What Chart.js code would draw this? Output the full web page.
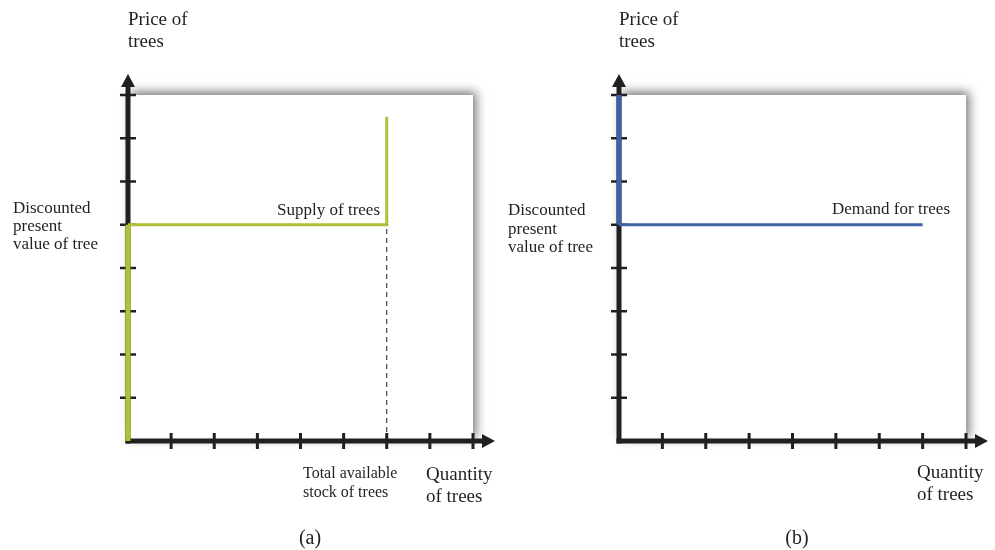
<!DOCTYPE html>
<html lang="en">
<head>
<meta charset="UTF-8">
<title>Supply and demand for trees</title>
<script src="https://cdn.jsdelivr.net/npm/chart.js"></script>
<style>
  body { margin: 0; background: #fff; }
  .wrap { position: relative; width: 995px; height: 550px; }
  canvas { position: absolute; top: 0; }
  #chartA { left: 0; }
  #chartB { left: 497px; }
</style>
</head>
<body>
<div class="wrap">
  <canvas id="chartA" width="497" height="550"></canvas>
  <canvas id="chartB" width="498" height="550"></canvas>
</div>
<script>
// axis ticks (both panels use 0..8 on each axis)
const quantityTicks = [1, 2, 3, 4, 5, 6, 7, 8];
const priceTicks = [1, 2, 3, 4, 5, 6, 7, 8];

// panel (a): supply of trees
const supplyAxisQuantity = [0, 0];
const supplyAxisPrice = [0, 5];
const supplyQuantity = [0, 6, 6];
const supplyPrice = [5, 5, 7.5];
const stockQuantity = [6, 6];
const stockPrice = [0, 5];

// panel (b): demand for trees
const demandAxisQuantity = [0, 0];
const demandAxisPrice = [5, 8];
const demandQuantity = [0, 7];
const demandPrice = [5, 5];

const INK = '#231f20';
const GREEN = '#b1c034';
const BLUE = '#3d63a5';
const SERIF = '"Liberation Serif", "Times New Roman", serif';

const pts = (xs, ys) => xs.map((x, i) => ({ x: x, y: ys[i] }));

const line = (data, color, width, dash) => ({
  data: data,
  showLine: true,
  borderColor: color,
  borderWidth: width,
  borderDash: dash || [],
  pointRadius: 0,
  clip: false
});

// white plot box with soft shadow, black axes with arrows and tick marks
const axesPlugin = {
  id: 'axes',
  beforeDraw(chart) {
    const { ctx, chartArea: a } = chart;
    ctx.save();
    ctx.shadowColor = 'rgba(0,0,0,0.55)';
    ctx.shadowBlur = 10;
    ctx.shadowOffsetX = 3;
    ctx.shadowOffsetY = -3;
    ctx.fillStyle = '#fff';
    ctx.fillRect(a.left, a.top, a.right - a.left, a.bottom - a.top);
    ctx.restore();
  },
  beforeDatasetsDraw(chart) {
    const { ctx, chartArea: a, scales } = chart;
    const x0 = scales.x.getPixelForValue(0);
    const y0 = scales.y.getPixelForValue(0);
    ctx.save();
    ctx.strokeStyle = INK;
    ctx.fillStyle = INK;
    ctx.lineCap = 'butt';

    // y axis
    ctx.lineWidth = 5;
    ctx.beginPath();
    ctx.moveTo(x0, y0 + 2.5);
    ctx.lineTo(x0, a.top - 10);
    ctx.stroke();
    ctx.beginPath();
    ctx.moveTo(x0, a.top - 21);
    ctx.lineTo(x0 - 7, a.top - 8);
    ctx.lineTo(x0 + 7, a.top - 8);
    ctx.closePath();
    ctx.fill();

    // x axis
    ctx.beginPath();
    ctx.moveTo(x0 - 2.5, y0);
    ctx.lineTo(a.right + 10, y0);
    ctx.stroke();
    ctx.beginPath();
    ctx.moveTo(a.right + 22, y0);
    ctx.lineTo(a.right + 9, y0 - 7);
    ctx.lineTo(a.right + 9, y0 + 7);
    ctx.closePath();
    ctx.fill();

    // tick marks
    ctx.lineWidth = 2.5;
    priceTicks.forEach(v => {
      const y = scales.y.getPixelForValue(v);
      ctx.beginPath();
      ctx.moveTo(x0 - 8, y);
      ctx.lineTo(x0 + 8, y);
      ctx.stroke();
    });
    ctx.lineWidth = 3;
    quantityTicks.forEach(v => {
      const x = scales.x.getPixelForValue(v);
      ctx.beginPath();
      ctx.moveTo(x, y0 - 8);
      ctx.lineTo(x, y0 + 8);
      ctx.stroke();
    });
    ctx.restore();
  },
  afterDraw(chart) {
    const { ctx } = chart;
    const labels = chart.options.plugins.axes.labels || [];
    ctx.save();
    ctx.fillStyle = INK;
    ctx.textBaseline = 'alphabetic';
    labels.forEach(l => {
      ctx.font = l.size + 'px ' + SERIF;
      ctx.textAlign = l.align || 'left';
      l.lines.forEach((t, i) => ctx.fillText(t, l.x, l.y + i * l.lh));
    });
    ctx.restore();
  }
};

function makePanel(id, padding, datasets, labels) {
  return new Chart(document.getElementById(id), {
    type: 'scatter',
    data: { datasets: datasets },
    options: {
      responsive: false,
      animation: false,
      layout: { padding: padding },
      scales: {
        x: { type: 'linear', min: 0, max: 8, display: false },
        y: { type: 'linear', min: 0, max: 8, display: false }
      },
      plugins: {
        legend: { display: false },
        tooltip: { enabled: false },
        axes: { labels: labels }
      }
    },
    plugins: [axesPlugin]
  });
}

makePanel('chartA', { left: 128, right: 24, top: 95, bottom: 109 }, [
  line(pts(stockQuantity, stockPrice), INK, 1, [5, 4]),
  line(pts(supplyQuantity, supplyPrice), GREEN, 3),
  line(pts(supplyAxisQuantity, supplyAxisPrice), GREEN, 5)
], [
  { lines: ['Price of', 'trees'], x: 128, y: 25, lh: 22, size: 19 },
  { lines: ['Discounted', 'present', 'value of tree'], x: 13, y: 213, lh: 18, size: 17 },
  { lines: ['Supply of trees'], x: 380, y: 215, lh: 18, size: 17, align: 'right' },
  { lines: ['Total available', 'stock of trees'], x: 303, y: 478, lh: 18.5, size: 16 },
  { lines: ['Quantity', 'of trees'], x: 426, y: 480, lh: 22, size: 19 },
  { lines: ['(a)'], x: 310, y: 544, lh: 20, size: 20, align: 'center' }
]);

makePanel('chartB', { left: 122, right: 29, top: 95, bottom: 109 }, [
  line(pts(demandQuantity, demandPrice), BLUE, 3),
  line(pts(demandAxisQuantity, demandAxisPrice), BLUE, 5)
], [
  { lines: ['Price of', 'trees'], x: 122, y: 25, lh: 22, size: 19 },
  { lines: ['Discounted', 'present', 'value of tree'], x: 11, y: 215, lh: 18.5, size: 17 },
  { lines: ['Demand for trees'], x: 453, y: 214, lh: 18, size: 17, align: 'right' },
  { lines: ['Quantity', 'of trees'], x: 420, y: 478, lh: 22, size: 19 },
  { lines: ['(b)'], x: 300, y: 544, lh: 20, size: 20, align: 'center' }
]);
</script>
</body>
</html>
